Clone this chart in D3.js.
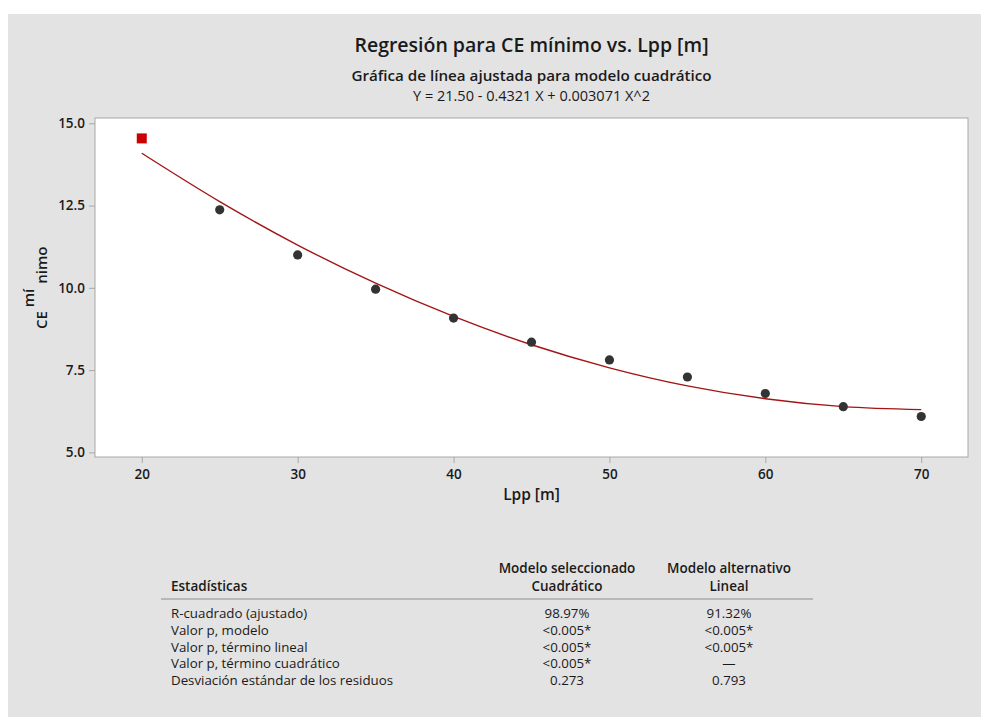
<!DOCTYPE html>
<html>
<head>
<meta charset="utf-8">
<script src="https://cdn.jsdelivr.net/npm/d3@7"></script>
<style>
  body { margin: 0; background: #ffffff; }
  text { font-family: "Open Sans", "Noto Sans", sans-serif; fill: #1a1a1a; }
</style>
</head>
<body>
<div id="chart"></div>
<script>
// Data
var lppValues = [20, 25, 30, 35, 40, 45, 50, 55, 60, 65, 70];
var ceMinimo = [14.54, 12.37, 11.00, 9.96, 9.08, 8.35, 7.81, 7.29, 6.79, 6.39, 6.09];
// fitted values of the quadratic model at each Lpp
var ceAjustado = [14.09, 12.62, 11.30, 10.14, 9.13, 8.27, 7.57, 7.02, 6.63, 6.39, 6.30];
var outlierIndex = [0];

var xTicks = [20, 30, 40, 50, 60, 70];
var yTicks = [5.0, 7.5, 10.0, 12.5, 15.0];

var statNames = ["R-cuadrado (ajustado)", "Valor p, modelo", "Valor p, término lineal",
  "Valor p, término cuadrático", "Desviación estándar de los residuos"];
var statCuadratico = ["98.97%", "<0.005*", "<0.005*", "<0.005*", "0.273"];
var statLineal = ["91.32%", "<0.005*", "<0.005*", "—", "0.793"];

var width = 982, height = 718;
var plot = { left: 95, top: 118, right: 968, bottom: 457 };

var svg = d3.select("#chart").append("svg")
  .attr("width", width)
  .attr("height", height);

// gray panel
svg.append("rect")
  .attr("x", 8).attr("y", 14)
  .attr("width", 973).attr("height", 703)
  .attr("fill", "#e3e3e3");

// scales
var x = d3.scaleLinear().domain([17, 73]).range([plot.left, plot.right]);
var y = d3.scaleLinear().domain([4.86, 15.16]).range([plot.bottom, plot.top]);

// plot background
svg.append("rect")
  .attr("x", plot.left).attr("y", plot.top)
  .attr("width", plot.right - plot.left).attr("height", plot.bottom - plot.top)
  .attr("fill", "#ffffff")
  .attr("stroke", "#a8a8a8")
  .attr("stroke-width", 1);

// axes
var xAxis = svg.append("g")
  .attr("transform", "translate(0," + plot.bottom + ")")
  .call(d3.axisBottom(x).tickValues(xTicks).tickSize(6).tickPadding(6).tickFormat(d3.format("d")));
var yAxis = svg.append("g")
  .attr("transform", "translate(" + plot.left + ",0)")
  .call(d3.axisLeft(y).tickValues(yTicks).tickSize(6).tickPadding(4).tickFormat(d3.format(".1f")));

[xAxis, yAxis].forEach(function (a) {
  a.select(".domain").remove();
  a.selectAll(".tick line").attr("stroke", "#a8a8a8");
  a.selectAll(".tick text")
    .style("font-family", "'Open Sans', sans-serif")
    .style("font-size", "13.5px")
    .style("font-weight", "600")
    .attr("fill", "#1a1a1a");
});

// fitted line
var line = d3.line()
  .x(function (d, i) { return x(lppValues[i]); })
  .y(function (d) { return y(d); })
  .curve(d3.curveMonotoneX);

svg.append("path")
  .datum(ceAjustado)
  .attr("d", line)
  .attr("fill", "none")
  .attr("stroke", "#a31515")
  .attr("stroke-width", 1.4);

// points
var points = lppValues.map(function (v, i) {
  return { x: v, y: ceMinimo[i], outlier: outlierIndex.indexOf(i) >= 0 };
});

svg.selectAll("circle.pt")
  .data(points.filter(function (d) { return !d.outlier; }))
  .enter().append("circle")
  .attr("class", "pt")
  .attr("cx", function (d) { return x(d.x); })
  .attr("cy", function (d) { return y(d.y); })
  .attr("r", 4.6)
  .attr("fill", "#333333");

svg.selectAll("rect.out")
  .data(points.filter(function (d) { return d.outlier; }))
  .enter().append("rect")
  .attr("class", "out")
  .attr("x", function (d) { return x(d.x) - 5; })
  .attr("y", function (d) { return y(d.y) - 5; })
  .attr("width", 10).attr("height", 10)
  .attr("fill", "#cc0000");

// titles
var cx = (plot.left + plot.right) / 2;
svg.append("text")
  .attr("x", cx).attr("y", 52)
  .attr("text-anchor", "middle")
  .style("font-size", "19.5px").style("font-weight", "600")
  .text("Regresión para CE mínimo vs. Lpp [m]");
svg.append("text")
  .attr("x", cx).attr("y", 81)
  .attr("text-anchor", "middle")
  .style("font-size", "15.2px").style("font-weight", "600")
  .text("Gráfica de línea ajustada para modelo cuadrático");
svg.append("text")
  .attr("x", cx).attr("y", 101)
  .attr("text-anchor", "middle")
  .style("font-size", "14.5px")
  .text("Y = 21.50 - 0.4321 X + 0.003071 X^2");

// axis labels
svg.append("text")
  .attr("x", cx).attr("y", 500)
  .attr("text-anchor", "middle")
  .style("font-size", "15.5px").style("font-weight", "600")
  .text("Lpp [m]");

var yl = svg.append("text")
  .attr("transform", "translate(46.5,329) rotate(-90)")
  .style("font-size", "15px").style("font-weight", "600");
yl.append("tspan").text("CE ");
yl.append("tspan").attr("dy", -13).text("mí");
yl.append("tspan").attr("dy", 13).attr("dx", 5).text("nimo");

// statistics table
var col0 = 171, col1 = 567, col2 = 729;
var head = svg.append("g").style("font-size", "13.5px").style("font-weight", "600");
head.append("text").attr("x", col0).attr("y", 591).text("Estadísticas");
head.append("text").attr("x", col1).attr("y", 573).attr("text-anchor", "middle").text("Modelo seleccionado");
head.append("text").attr("x", col1).attr("y", 591).attr("text-anchor", "middle").text("Cuadrático");
head.append("text").attr("x", col2).attr("y", 573).attr("text-anchor", "middle").text("Modelo alternativo");
head.append("text").attr("x", col2).attr("y", 591).attr("text-anchor", "middle").text("Lineal");

svg.append("line")
  .attr("x1", 161).attr("x2", 813)
  .attr("y1", 599).attr("y2", 599)
  .attr("stroke", "#8c8c8c").attr("stroke-width", 1);

var rowY = d3.scaleLinear().domain([0, 4]).range([618, 685]);
var rows = svg.append("g").style("font-size", "13.3px");
rows.selectAll("text.name").data(statNames).enter().append("text")
  .attr("x", col0).attr("y", function (d, i) { return rowY(i); })
  .text(function (d) { return d; });
rows.selectAll("text.c1").data(statCuadratico).enter().append("text")
  .attr("x", col1).attr("y", function (d, i) { return rowY(i); })
  .attr("text-anchor", "middle")
  .text(function (d) { return d; });
rows.selectAll("text.c2").data(statLineal).enter().append("text")
  .attr("x", col2).attr("y", function (d, i) { return rowY(i); })
  .attr("text-anchor", "middle")
  .text(function (d) { return d; });
</script>
</body>
</html>
